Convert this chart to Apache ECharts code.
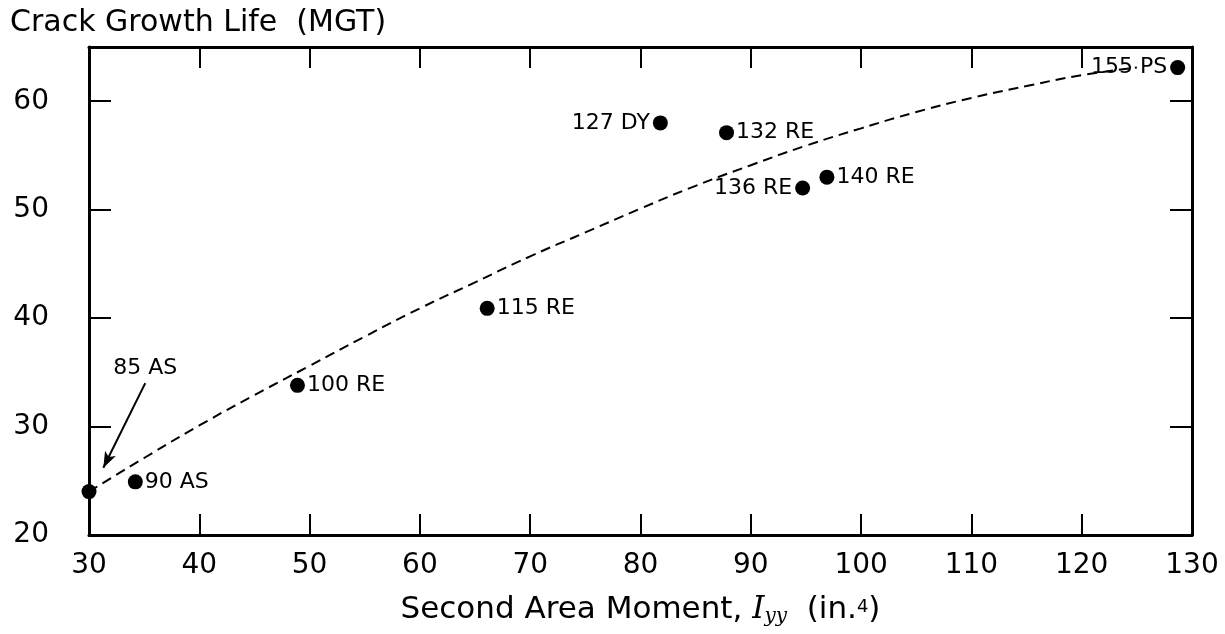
<!DOCTYPE html>
<html>
<head>
<meta charset="utf-8">
<script src="https://cdn.jsdelivr.net/npm/echarts@6/dist/echarts.min.js"></script>
<style>
html,body{margin:0;padding:0;background:#fff;}
#chart{width:1225px;height:634px;}
</style>
</head>
<body>
<div id="chart"></div>
<script>
// ---- Data ----
const pointNames = ['85 AS', '90 AS', '100 RE', '115 RE', '127 DY', '132 RE', '136 RE', '140 RE', '155 PS'];
const pointX = [30, 34.2, 48.9, 66.1, 81.8, 87.8, 94.7, 96.9, 128.7];
const pointY = [24, 24.9, 33.8, 40.9, 58.0, 57.1, 52.0, 53.0, 63.1];

const curveX = [30, 35, 40, 45, 50, 55, 60, 65, 70, 75, 80, 85, 90, 95, 100, 105, 110, 115, 120, 125];
const curveY = [24, 27.1, 30.1, 32.9, 35.6, 38.3, 40.9, 43.3, 45.7, 47.9, 50.1, 52.2, 54.1, 55.9, 57.5, 59.0, 60.3, 61.4, 62.4, 63.1];

const annotText = '85 AS';
const arrowFrom = [35.1, 34.0];
const arrowTo = [31.3, 26.2];

const xMin = 30, xMax = 130, xStep = 10;
const yMin = 20, yMax = 65, yStep = 10;

const titleText = 'Crack Growth Life  (MGT)';

// ---- Chart ----
const FONT = '"DejaVu Sans", "Open Sans", sans-serif';
const leftLabeled = ['127 DY', '136 RE', '155 PS'];
const unlabeled = ['85 AS'];

const scatterData = pointNames.map((n, i) => {
  const d = { value: [pointX[i], pointY[i]], name: n };
  if (unlabeled.includes(n)) {
    d.label = { show: false };
  } else if (leftLabeled.includes(n)) {
    d.label = { show: true, position: 'left', distance: 3 };
  }
  return d;
});

const chart = echarts.init(document.getElementById('chart'), null, { renderer: 'canvas' });

const axisLineStyle = { color: '#000', width: 3 };
const tickStyle = { color: '#000', width: 2 };

const option = {
  backgroundColor: '#fff',
  animation: false,
  title: {
    text: titleText,
    left: 5, top: 3,
    textStyle: { fontFamily: FONT, fontSize: 30, fontWeight: 'normal', color: '#000' }
  },
  grid: { left: 89, right: 33, top: 47, bottom: 99 },
  xAxis: [
    {
      type: 'value', min: xMin, max: xMax, interval: xStep, position: 'bottom',
      axisLine: { show: true, onZero: false, lineStyle: axisLineStyle },
      axisTick: { show: true, inside: true, length: 21, lineStyle: tickStyle },
      splitLine: { show: false },
      axisLabel: { color: '#000', fontFamily: FONT, fontSize: 28, margin: 17 },
      name: 'Second Area Moment, {i|I}{sub|yy}  (in.{sup|4})',
      nameLocation: 'middle', nameGap: 57,
      nameTextStyle: {
        color: '#000', fontFamily: FONT, fontSize: 31,
        rich: {
          i: { fontFamily: '"DejaVu Serif", serif', fontStyle: 'italic', fontSize: 31, color: '#000' },
          sub: { fontFamily: '"DejaVu Serif", serif', fontStyle: 'italic', fontSize: 20, color: '#000', padding: [15, 0, 0, 0] },
          sup: { fontFamily: FONT, fontSize: 18, color: '#000', padding: [0, 0, 4, 0] }
        }
      }
    },
    {
      type: 'value', min: xMin, max: xMax, interval: xStep, position: 'top',
      axisLine: { show: true, onZero: false, lineStyle: axisLineStyle },
      axisTick: { show: true, inside: true, length: 21, lineStyle: tickStyle },
      splitLine: { show: false },
      axisLabel: { show: false }
    }
  ],
  yAxis: [
    {
      type: 'value', min: yMin, max: yMax, interval: yStep, position: 'left',
      axisLine: { show: true, onZero: false, lineStyle: axisLineStyle },
      axisTick: { show: true, inside: true, length: 22, lineStyle: tickStyle },
      splitLine: { show: false },
      axisLabel: { color: '#000', fontFamily: FONT, fontSize: 28, margin: 40, showMaxLabel: false }
    },
    {
      type: 'value', min: yMin, max: yMax, interval: yStep, position: 'right',
      axisLine: { show: true, onZero: false, lineStyle: axisLineStyle },
      axisTick: { show: true, inside: true, length: 22, lineStyle: tickStyle },
      splitLine: { show: false },
      axisLabel: { show: false }
    }
  ],
  series: [
    {
      type: 'line',
      data: curveX.map((x, i) => [x, curveY[i]]),
      smooth: true,
      showSymbol: false,
      symbol: 'none',
      lineStyle: { color: '#000', width: 2, type: [10, 6] },
      z: 2
    },
    {
      type: 'scatter',
      data: scatterData,
      symbol: 'circle',
      symbolSize: 15,
      itemStyle: { color: '#000', opacity: 1 },
      label: {
        show: true, position: 'right', distance: 2,
        formatter: p => p.name,
        color: '#000', fontFamily: FONT, fontSize: 22
      },
      z: 3
    },
    {
      type: 'scatter',
      data: [{ value: arrowFrom, name: annotText }],
      symbolSize: 0,
      itemStyle: { color: '#000', opacity: 1 },
      label: {
        show: true, position: 'top', distance: 4,
        formatter: p => p.name,
        color: '#000', fontFamily: FONT, fontSize: 22
      },
      markLine: {
        silent: true,
        symbol: ['none', 'arrow'],
        symbolSize: [9, 16],
        label: { show: false },
        lineStyle: { color: '#000', width: 2, type: 'solid', opacity: 1 },
        data: [[{ coord: arrowFrom }, { coord: arrowTo }]]
      },
      z: 4
    }
  ]
};

chart.setOption(option);
</script>
</body>
</html>
